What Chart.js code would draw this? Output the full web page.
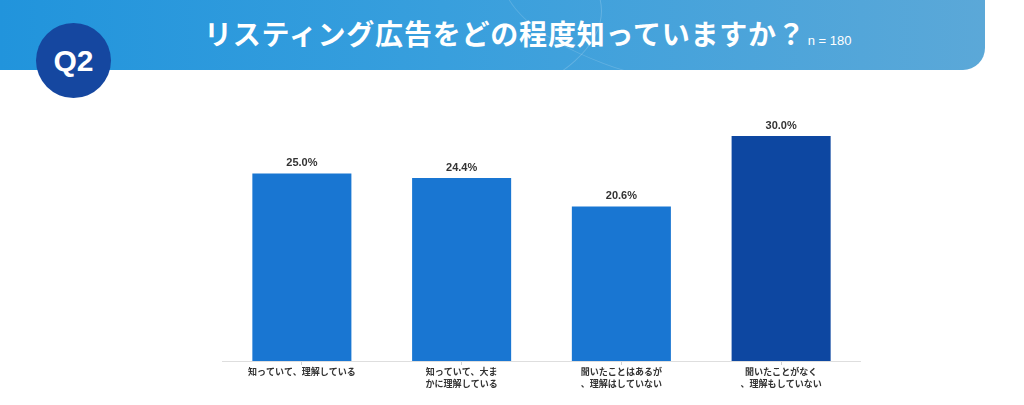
<!DOCTYPE html>
<html>
<head>
<meta charset="utf-8">
<script src="https://cdn.jsdelivr.net/npm/chart.js@4.4.0/dist/chart.umd.min.js"></script>
<style>
    html, body { margin: 0; padding: 0; background: #fff; }
    body { width: 1024px; height: 405px; position: relative; overflow: hidden; font-family: "Noto Sans CJK JP", sans-serif; }
    .banner {
        position: absolute; left: 0; top: 0; width: 985px; height: 70px;
        border-bottom-right-radius: 22px;
        background: linear-gradient(90deg, #2194dc 0%, #389fdd 45%, #5ba8d8 100%);
        overflow: hidden;
    }
    .banner::before {
        content: ''; position: absolute; left: -100px; top: -120px; width: 700px; height: 260px;
        border-radius: 50%; border: 1px solid rgba(255,255,255,0.18);
    }
    .banner::after {
        content: ''; position: absolute; left: 500px; top: -160px; width: 700px; height: 260px;
        border-radius: 50%; border: 1px solid rgba(255,255,255,0.15);
    }
    .title {
        position: absolute; left: 204px; top: 13px; color: #fff;
        font-size: 28px; font-weight: 700; white-space: nowrap; letter-spacing: 0.8px;
    }
    .title small { font-size: 13px; font-weight: 400; font-family: "Liberation Sans", sans-serif; margin-left: 2px; letter-spacing: 0; }
    .badge {
        position: absolute; left: 36px; top: 23px; width: 75px; height: 75px; border-radius: 50%;
        background: #1547a0; color: #fff; font-family: "Liberation Sans", sans-serif;
        font-weight: 700; font-size: 30px; line-height: 75px; text-align: center;
    }
    #wrap { position: absolute; left: 222px; top: 91px; width: 639px; height: 314px; }
</style>
</head>
<body>
<div class="banner"></div>
<div class="title">リスティング広告をどの程度知っていますか？<small>n = 180</small></div>
<div class="badge">Q2</div>
<div id="wrap"><canvas id="chart"></canvas></div>
<script>
const categories = [
    ['知っていて、理解している'],
    ['知っていて、大ま', 'かに理解している'],
    ['聞いたことはあるが', '、理解はしていない'],
    ['聞いたことがなく', '、理解もしていない']
];
const values = [25.0, 24.4, 20.6, 30.0];
const barColors = ['#1976d2', '#1976d2', '#1976d2', '#0d47a1'];

// draw the value above each bar
const valueLabels = {
    id: 'valueLabels',
    afterDatasetsDraw(chart) {
        const ctx = chart.ctx;
        const meta = chart.getDatasetMeta(0);
        ctx.save();
        ctx.font = 'bold 11px "Liberation Sans", sans-serif';
        ctx.fillStyle = '#333';
        ctx.textAlign = 'center';
        ctx.textBaseline = 'bottom';
        meta.data.forEach((bar, i) => {
            ctx.fillText(values[i].toFixed(1) + '%', bar.x, bar.y - 5);
        });
        ctx.restore();
    }
};

new Chart(document.getElementById('chart').getContext('2d'), {
    type: 'bar',
    data: {
        labels: categories,
        datasets: [{
            data: values,
            backgroundColor: barColors,
            categoryPercentage: 1,
            barPercentage: 0.62
        }]
    },
    options: {
        responsive: true,
        maintainAspectRatio: false,
        animation: false,
        layout: { padding: 0 },
        plugins: {
            legend: { display: false },
            tooltip: { enabled: false }
        },
        scales: {
            x: {
                afterFit: function(scale) { scale.height = 44; },
                grid: { offset: false, drawOnChartArea: false, drawTicks: true, tickLength: 4, color: '#d0d0d0' },
                border: { color: '#dedede' },
                ticks: {
                    color: '#333',
                    padding: 1,
                    font: { family: '"Noto Sans CJK JP", sans-serif', size: 9, weight: 'bold', lineHeight: 1.3 },
                    maxRotation: 0,
                    autoSkip: false
                }
            },
            y: {
                display: false,
                min: 0,
                max: 36
            }
        }
    },
    plugins: [valueLabels]
});
</script>
</body>
</html>
